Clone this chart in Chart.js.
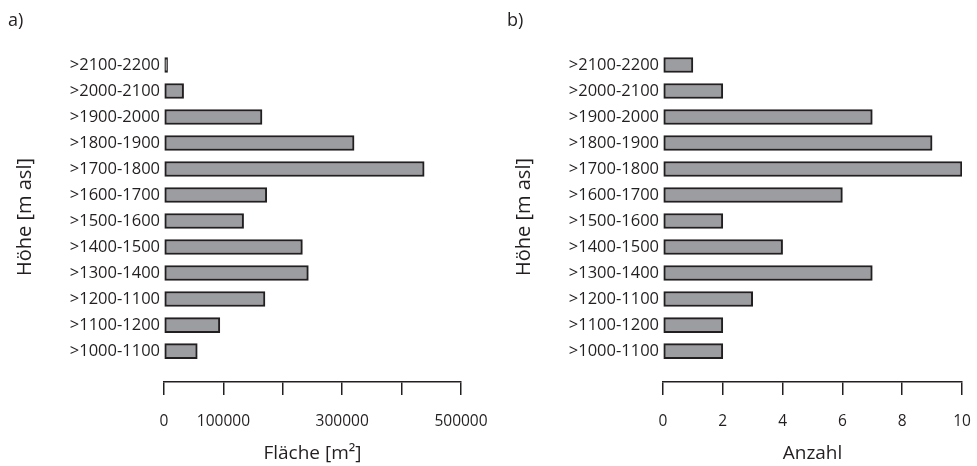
<!DOCTYPE html>
<html>
<head>
<meta charset="utf-8">
<script src="https://cdn.jsdelivr.net/npm/chart.js@4.4.1/dist/chart.umd.min.js"></script>
<style>
  html, body { margin: 0; padding: 0; background: #fff; }
  #wrap { position: relative; width: 977px; height: 466px; }
  .panel { position: absolute; top: 0; height: 466px; }
</style>
</head>
<body>
<div id="wrap">
  <div class="panel" style="left:0;width:490px;"><canvas id="chartA"></canvas></div>
  <div class="panel" style="left:499px;width:478px;"><canvas id="chartB"></canvas></div>
</div>
<script>
// elevation classes, from bottom to top
const categories = ['>1000-1100', '>1100-1200', '>1200-1100', '>1300-1400', '>1400-1500', '>1500-1600',
                    '>1600-1700', '>1700-1800', '>1800-1900', '>1900-2000', '>2000-2100', '>2100-2200'];
// a) area per class [m2]
const areaValues = [56000, 94000, 170000, 243000, 233000, 134000, 173000, 438000, 320000, 165000, 33000, 6000];
// b) number per class
const countValues = [2, 2, 3, 7, 4, 2, 6, 10, 9, 7, 2, 1];
// x tick labels shown in a)
const areaTickLabels = [0, 100000, 300000, 500000];

const ink = '#231f20';
const fontFamily = '"Open Sans", sans-serif';

function makeChart(canvasId, panelLabel, values, xMax, xStep, xTitle, xTickCallback, rightPad) {
    const ctx = document.getElementById(canvasId).getContext('2d');
    return new Chart(ctx, {
        type: 'bar',
        data: {
            datasets: [{
                data: values.map((v, i) => ({ x: v, y: i })),
                backgroundColor: '#9b9da1',
                borderColor: ink,
                borderWidth: 2,
                borderSkipped: false,
                barThickness: 15
            }]
        },
        options: {
            indexAxis: 'y',
            responsive: true,
            maintainAspectRatio: false,
            animation: false,
            layout: { padding: { left: 8, right: rightPad, top: 0, bottom: 0 } },
            plugins: {
                legend: { display: false },
                tooltip: { enabled: false },
                title: {
                    display: true,
                    text: panelLabel,
                    align: 'start',
                    color: ink,
                    font: { family: fontFamily, size: 18, weight: 'normal' },
                    padding: { top: 10, bottom: 20.4 }
                }
            },
            scales: {
                x: {
                    type: 'linear',
                    min: 0,
                    max: xMax,
                    afterBuildTicks: (scale) => {
                        const t = [];
                        for (let v = 0; v <= xMax; v += xStep) t.push({ value: v });
                        scale.ticks = t;
                    },
                    afterFit: (scale) => {
                        scale.height = 84;
                        scale.paddingLeft = 0;
                        scale.paddingRight = 0;
                    },
                    border: { display: true, color: ink, width: 1.5 },
                    grid: { display: true, drawOnChartArea: false, drawTicks: true, tickLength: 13, color: ink, lineWidth: 1.5 },
                    ticks: {
                        autoSkip: false,
                        maxRotation: 0,
                        padding: 17,
                        color: ink,
                        font: { family: fontFamily, size: 15.5 },
                        callback: xTickCallback
                    },
                    title: {
                        display: true,
                        text: xTitle,
                        color: ink,
                        font: { family: fontFamily, size: 19 },
                        padding: { top: 0, bottom: 1 }
                    }
                },
                y: {
                    type: 'linear',
                    offset: false,
                    min: -1.19,
                    max: 11.5,
                    afterBuildTicks: (scale) => {
                        scale.ticks = categories.map((c, i) => ({ value: i }));
                    },
                    afterFit: (scale) => {
                        scale.width = 156;
                        scale.paddingTop = 0;
                        scale.paddingBottom = 0;
                    },
                    border: { display: false },
                    grid: { display: false, drawTicks: false, offset: false },
                    ticks: {
                        padding: 4,
                        color: ink,
                        font: { family: fontFamily, size: 16.5 },
                        callback: (value) => categories[value]
                    },
                    title: {
                        display: true,
                        text: 'Höhe [m asl]',
                        color: ink,
                        font: { family: fontFamily, size: 20, lineHeight: 1 },
                        padding: { top: 7, bottom: 0 }
                    }
                }
            }
        }
    });
}

makeChart('chartA', 'a)', areaValues, 500000, 100000, 'Fläche [m²]',
    (value) => areaTickLabels.includes(value) ? String(value) : '', 29);
makeChart('chartB', 'b)', countValues, 10, 2, 'Anzahl',
    (value) => String(value), 15);
</script>
</body>
</html>
